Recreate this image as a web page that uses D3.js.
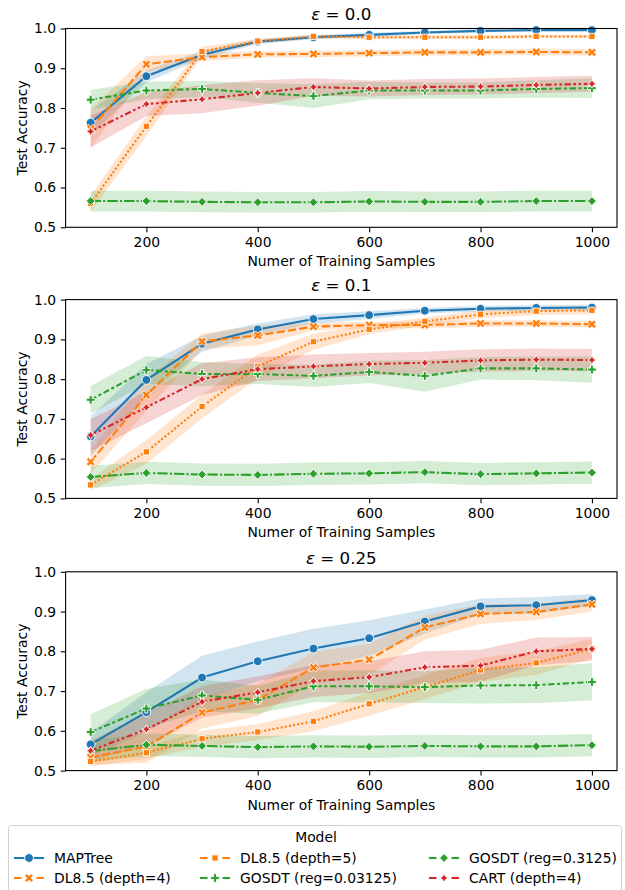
<!DOCTYPE html>
<html lang="en">
<head>
<meta charset="utf-8">
<title>Test accuracy vs training samples</title>
<script src="https://cdn.jsdelivr.net/npm/d3@7"></script>
<style>
  body { margin: 0; background: #fff; }
  svg { font-family: "DejaVu Sans", sans-serif; }
</style>
</head>
<body>
<script>
/* data */
var samples = [100, 200, 300, 400, 500, 600, 700, 800, 900, 1000];
var models = ["MAPTree", "DL8.5 (depth=4)", "DL8.5 (depth=5)",
              "GOSDT (reg=0.03125)", "GOSDT (reg=0.3125)", "CART (depth=4)"];
var epsLabels = ["0.0", "0.1", "0.25"];
var xTicks = [200, 400, 600, 800, 1000];
var yTicks = [0.5, 0.6, 0.7, 0.8, 0.9, 1.0];

// mean accuracy, one row per model (same order as models)
var acc00 = [
  [0.763, 0.880, 0.934, 0.967, 0.978, 0.984, 0.990, 0.994, 0.996, 0.996],
  [0.748, 0.910, 0.928, 0.935, 0.936, 0.938, 0.940, 0.940, 0.941, 0.940],
  [0.560, 0.754, 0.942, 0.968, 0.980, 0.978, 0.978, 0.978, 0.980, 0.980],
  [0.821, 0.844, 0.848, 0.838, 0.830, 0.844, 0.844, 0.844, 0.848, 0.850],
  [0.566, 0.566, 0.564, 0.563, 0.563, 0.565, 0.564, 0.564, 0.566, 0.566],
  [0.741, 0.810, 0.822, 0.838, 0.853, 0.849, 0.853, 0.854, 0.858, 0.861]
];
// half width of the confidence band
var ci00 = [
  [0.030, 0.015, 0.010, 0.006, 0.005, 0.005, 0.004, 0.004, 0.003, 0.003],
  [0.050, 0.020, 0.010, 0.008, 0.008, 0.008, 0.008, 0.008, 0.008, 0.008],
  [0.020, 0.025, 0.012, 0.006, 0.005, 0.005, 0.005, 0.005, 0.004, 0.004],
  [0.025, 0.022, 0.020, 0.025, 0.030, 0.022, 0.020, 0.020, 0.022, 0.025],
  [0.026, 0.026, 0.026, 0.026, 0.026, 0.026, 0.026, 0.026, 0.026, 0.026],
  [0.040, 0.030, 0.035, 0.032, 0.022, 0.020, 0.020, 0.020, 0.020, 0.020]
];

var acc01 = [
  [0.656, 0.798, 0.889, 0.925, 0.951, 0.961, 0.972, 0.977, 0.979, 0.980],
  [0.592, 0.760, 0.895, 0.910, 0.932, 0.936, 0.936, 0.940, 0.940, 0.938],
  [0.534, 0.617, 0.731, 0.832, 0.894, 0.925, 0.945, 0.963, 0.971, 0.973],
  [0.748, 0.823, 0.813, 0.813, 0.808, 0.818, 0.808, 0.827, 0.827, 0.824],
  [0.554, 0.564, 0.560, 0.559, 0.562, 0.563, 0.566, 0.561, 0.563, 0.565],
  [0.659, 0.729, 0.800, 0.825, 0.832, 0.838, 0.841, 0.847, 0.849, 0.848]
];
var ci01 = [
  [0.050, 0.040, 0.020, 0.015, 0.012, 0.010, 0.007, 0.007, 0.007, 0.007],
  [0.030, 0.040, 0.020, 0.025, 0.010, 0.008, 0.008, 0.008, 0.008, 0.008],
  [0.015, 0.030, 0.030, 0.030, 0.020, 0.012, 0.010, 0.010, 0.010, 0.010],
  [0.035, 0.035, 0.030, 0.025, 0.028, 0.028, 0.040, 0.028, 0.030, 0.033],
  [0.028, 0.028, 0.028, 0.028, 0.028, 0.028, 0.028, 0.028, 0.028, 0.028],
  [0.040, 0.040, 0.040, 0.030, 0.030, 0.028, 0.028, 0.028, 0.028, 0.028]
];

var acc025 = [
  [0.566, 0.647, 0.734, 0.775, 0.807, 0.833, 0.875, 0.913, 0.916, 0.929],
  [0.534, 0.560, 0.646, 0.678, 0.759, 0.779, 0.860, 0.894, 0.899, 0.918],
  [0.523, 0.545, 0.580, 0.597, 0.624, 0.668, 0.710, 0.753, 0.771, 0.806],
  [0.597, 0.656, 0.689, 0.678, 0.712, 0.712, 0.710, 0.714, 0.715, 0.723],
  [0.549, 0.565, 0.562, 0.559, 0.561, 0.560, 0.562, 0.561, 0.561, 0.564],
  [0.550, 0.604, 0.673, 0.697, 0.725, 0.735, 0.760, 0.764, 0.800, 0.806]
];
var ci025 = [
  [0.030, 0.050, 0.055, 0.050, 0.050, 0.045, 0.030, 0.020, 0.020, 0.015],
  [0.020, 0.040, 0.040, 0.040, 0.040, 0.040, 0.030, 0.025, 0.020, 0.018],
  [0.012, 0.015, 0.020, 0.020, 0.025, 0.030, 0.030, 0.030, 0.030, 0.025],
  [0.045, 0.050, 0.040, 0.035, 0.040, 0.040, 0.040, 0.045, 0.045, 0.047],
  [0.028, 0.028, 0.028, 0.028, 0.028, 0.028, 0.028, 0.028, 0.028, 0.028],
  [0.025, 0.040, 0.040, 0.040, 0.040, 0.040, 0.040, 0.040, 0.035, 0.030]
];

var panelAcc = [acc00, acc01, acc025];
var panelCi = [ci00, ci01, ci025];

/* styles, seaborn-ish */
var colors = ["#1f77b4", "#ff7f0e", "#ff7f0e", "#2ca02c", "#2ca02c", "#d62728"];
var dashes = [null, "8.3,3.1", "2.1,2.1", "6.25,2.6,3.1,2.6", "10.4,2.1,2.1,2.1",
              "6.25,2.6,2.6,2.6,2.6,2.6"];
var markerKind = ["circle", "x", "square", "plus", "diamond", "star"];

var W = 625, H = 890;
var left = 65.6, right = 617;
var tops = [28.5, 299.6, 571.8];
var ph = 198.8;

var svg = d3.select("body").append("svg")
    .attr("width", W).attr("height", H);

var x = d3.scaleLinear().domain([55, 1045]).range([left, right]);

// marker paths, r = half size in px
function markerPath(kind, r) {
  var p = d3.path();
  function poly(pts) {
    pts.forEach(function(q, i) {
      if (i == 0) p.moveTo(q[0] * r, q[1] * r); else p.lineTo(q[0] * r, q[1] * r);
    });
    p.closePath();
  }
  if (kind == "circle") {
    p.arc(0, 0, r, 0, 2 * Math.PI);
  } else if (kind == "square") {
    var s = 1 / Math.SQRT2;
    poly([[-s, -s], [s, -s], [s, s], [-s, s]]);
  } else if (kind == "diamond") {
    poly([[0, -1], [1, 0], [0, 1], [-1, 0]]);
  } else if (kind == "x") {
    poly([[-1, -2], [0, -1], [1, -2], [2, -1], [1, 0], [2, 1], [1, 2], [0, 1],
          [-1, 2], [-2, 1], [-1, 0], [-2, -1]].map(function(q) { return [q[0] / 2, q[1] / 2]; }));
  } else if (kind == "plus") {
    poly([[-1, -3], [1, -3], [1, -1], [3, -1], [3, 1], [1, 1], [1, 3], [-1, 3],
          [-1, 1], [-3, 1], [-3, -1], [-1, -1]].map(function(q) { return [q[0] / 3, q[1] / 3]; }));
  } else if (kind == "star") {
    var ri = 0.5, pts = [];
    for (var k = 0; k < 8; k++) {
      var a = -Math.PI / 2 + k * Math.PI / 4;
      var rr = (k % 2 == 0) ? 1 : ri;
      pts.push([rr * Math.cos(a), rr * Math.sin(a)]);
    }
    poly(pts);
  }
  return p.toString();
}

epsLabels.forEach(function(eps, pi) {
  var top = tops[pi];
  var y = d3.scaleLinear().domain([0.5, 1.0]).range([top + ph, top]);
  var g = svg.append("g");
  var acc = panelAcc[pi], ci = panelCi[pi];

  // clip for bands/lines
  var clipId = "clip" + pi;
  svg.append("clipPath").attr("id", clipId)
    .append("rect").attr("x", left).attr("y", top).attr("width", right - left).attr("height", ph);

  var area = d3.area()
    .x(function(d) { return x(d.x); })
    .y0(function(d) { return y(d.m - d.c); })
    .y1(function(d) { return y(d.m + d.c); });
  var line = d3.line()
    .x(function(d) { return x(d.x); })
    .y(function(d) { return y(d.m); });

  var series = models.map(function(name, mi) {
    return samples.map(function(s, i) { return { x: s, m: acc[mi][i], c: ci[mi][i] }; });
  });

  var plot = g.append("g").attr("clip-path", "url(#" + clipId + ")");

  // bands first (zorder 1)
  series.forEach(function(sr, mi) {
    plot.append("path").datum(sr)
      .attr("d", area)
      .attr("fill", colors[mi])
      .attr("fill-opacity", 0.2);
  });

  // lines and markers
  series.forEach(function(sr, mi) {
    plot.append("path").datum(sr)
      .attr("d", line)
      .attr("fill", "none")
      .attr("stroke", colors[mi])
      .attr("stroke-width", 2.08)
      .attr("stroke-dasharray", dashes[mi])
      .attr("stroke-linecap", dashes[mi] ? "butt" : "square");
    g.selectAll(null).data(sr).enter().append("path")
      .attr("transform", function(d) { return "translate(" + x(d.x) + "," + y(d.m) + ")"; })
      .attr("d", markerPath(markerKind[mi], 4.4))
      .attr("fill", colors[mi])
      .attr("stroke", "#fff")
      .attr("stroke-width", 0.9);
  });

  // axes
  var xAxis = d3.axisBottom(x).tickValues(xTicks).tickSize(4.9).tickPadding(4.5)
    .tickFormat(d3.format("d"));
  var yAxis = d3.axisLeft(y).tickValues(yTicks).tickSize(4.9).tickPadding(4.5)
    .tickFormat(d3.format(".1f"));

  var gx = g.append("g").attr("transform", "translate(0," + (top + ph) + ")").call(xAxis);
  var gy = g.append("g").attr("transform", "translate(" + left + ",0)").call(yAxis);
  [gx, gy].forEach(function(ax) {
    ax.select(".domain").remove();
    ax.selectAll("line").attr("stroke", "#000").attr("stroke-width", 1.1);
    ax.selectAll("text").attr("fill", "#000").style("font-size", "13.9px")
      .style("font-family", "DejaVu Sans");
  });

  // frame
  g.append("rect")
    .attr("x", left).attr("y", top).attr("width", right - left).attr("height", ph)
    .attr("fill", "none").attr("stroke", "#000").attr("stroke-width", 1.1);

  // title
  var t = g.append("text")
    .attr("x", (left + right) / 2).attr("y", top - 8.3)
    .attr("text-anchor", "middle")
    .style("font-size", "16.7px");
  t.append("tspan").style("font-style", "italic").text("ε");
  t.append("tspan").text(" = " + eps);

  // axis labels
  g.append("text")
    .attr("x", (left + right) / 2).attr("y", top + ph + 39)
    .attr("text-anchor", "middle")
    .style("font-size", "13.9px")
    .text("Numer of Training Samples");
  g.append("text")
    .attr("transform", "translate(26.5," + (top + ph / 2) + ") rotate(-90)")
    .attr("text-anchor", "middle")
    .style("font-size", "13.9px")
    .text("Test Accuracy");
});

/* legend */
var lg = svg.append("g");
lg.append("rect")
  .attr("x", 8.5).attr("y", 825.5).attr("width", 613).attr("height", 80)
  .attr("rx", 3)
  .attr("fill", "#fff").attr("fill-opacity", 0.8)
  .attr("stroke", "#d0d0d0").attr("stroke-width", 1);
lg.append("text")
  .attr("x", 316).attr("y", 842)
  .attr("text-anchor", "middle")
  .style("font-size", "13.9px")
  .text("Model");

var colX = [14, 200, 429];
var rowY = [858, 878];
models.forEach(function(name, mi) {
  var col = Math.floor(mi / 2), row = mi % 2;
  var hx = colX[col], hy = rowY[row];
  var item = lg.append("g");
  if (dashes[mi]) {
    [[hx, hx + 7.5], [hx + 22.5, hx + 30]].forEach(function(seg) {
      item.append("line")
        .attr("x1", seg[0]).attr("x2", seg[1]).attr("y1", hy).attr("y2", hy)
        .attr("stroke", colors[mi]).attr("stroke-width", 2.08);
    });
  } else {
    item.append("line")
      .attr("x1", hx).attr("x2", hx + 30).attr("y1", hy).attr("y2", hy)
      .attr("stroke", colors[mi]).attr("stroke-width", 2.08);
  }
  item.append("path")
    .attr("transform", "translate(" + (hx + 15) + "," + hy + ")")
    .attr("d", markerPath(markerKind[mi], 4.4))
    .attr("fill", colors[mi]).attr("stroke", "#fff").attr("stroke-width", 0.9);
  item.append("text")
    .attr("x", hx + 40).attr("y", hy + 5)
    .style("font-size", "13.9px")
    .text(name);
});
</script>
</body>
</html>
